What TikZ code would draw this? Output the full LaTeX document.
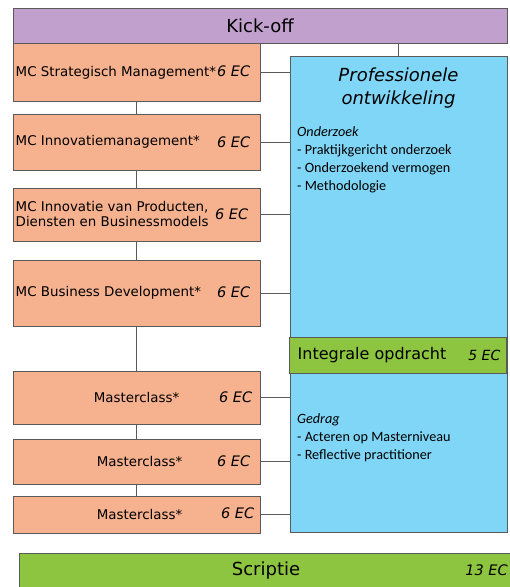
\documentclass[tikz,border=0pt]{standalone}
\usepackage{fontspec}
\setmainfont{DejaVu Sans}
\newfontfamily\listfont{Carlito}
\definecolor{boxgray}{RGB}{90,90,90}
\definecolor{kickpurple}{RGB}{193,160,205}
\definecolor{mcorange}{RGB}{246,177,143}
\definecolor{profblue}{RGB}{128,214,247}
\definecolor{intgreen}{RGB}{141,197,64}
\tikzset{
  box/.style={draw=boxgray, line width=1pt, inner sep=0pt},
  mcbox/.style={box, fill=mcorange, minimum width=247pt},
  mctext/.style={font=\fontsize{13.4}{15}\selectfont, inner sep=0pt, align=left},
  ec/.style={font=\fontsize{14.5}{16}\selectfont\itshape, inner sep=0pt},
  listtext/.style={font=\listfont\fontsize{14.2}{18}\selectfont, inner sep=0pt, align=left},
  link/.style={draw=boxgray, line width=1pt}
}
\begin{document}
\begin{tikzpicture}[x=1pt,y=-1pt]
                \useasboundingbox (0,0) rectangle (510,587);

                % kick-off
                \node[box, fill=kickpurple, minimum width=494pt, minimum height=35pt,
                      font=\fontsize{18}{20}\selectfont] (kickoff) at (260,25.5) {Kick-off};

                % modules left
                \node[mcbox, minimum height=58pt] (mc1) at (136.5,72) {};
                \node[mcbox, minimum height=56pt] (mc2) at (136.5,142) {};
                \node[mcbox, minimum height=53pt] (mc3) at (136.5,214.5) {};
                \node[mcbox, minimum height=66pt] (mc4) at (136.5,293) {};
                \node[mcbox, minimum height=53pt] (mc5) at (136.5,397.5) {};
                \node[mcbox, minimum height=45pt] (mc6) at (136.5,461.5) {};
                \node[mcbox, minimum height=37pt] (mc7) at (136.5,514.5) {};

                \node[mctext, anchor=west] (mc1txt) at ([xshift=3pt,yshift=-1pt]mc1.west) {MC Strategisch Management*};
                \node[mctext, anchor=west] (mc2txt) at ([xshift=3pt]mc2.west) {MC Innovatiemanagement*};
                \node[mctext, anchor=west] (mc3txt) at ([xshift=3pt]mc3.west) {MC Innovatie van Producten,\\Diensten en Businessmodels};
                \node[mctext, anchor=west] (mc4txt) at ([xshift=3pt]mc4.west) {MC Business Development*};
                \node[mctext] (mc5txt) at (mc5) {Masterclass*};
                \node[mctext] (mc6txt) at ([xshift=3pt]mc6.center) {Masterclass*};
                \node[mctext] (mc7txt) at ([xshift=3pt]mc7.center) {Masterclass*};

                \node[ec, anchor=east] (mc1ec) at ([xshift=-10pt,yshift=1pt]mc1.east) {6 EC};
                \node[ec, anchor=east] (mc2ec) at ([xshift=-10pt]mc2.east) {6 EC};
                \node[ec, anchor=east] (mc3ec) at ([xshift=-12pt]mc3.east) {6 EC};
                \node[ec, anchor=east] (mc4ec) at ([xshift=-10pt,yshift=1pt]mc4.east) {6 EC};
                \node[ec, anchor=east] (mc5ec) at ([xshift=-8pt]mc5.east) {6 EC};
                \node[ec, anchor=east] (mc6ec) at ([xshift=-10pt]mc6.east) {6 EC};
                \node[ec, anchor=east] (mc7ec) at ([xshift=-6pt,yshift=1pt]mc7.east) {6 EC};

                % professionele ontwikkeling
                \node[box, fill=profblue, minimum width=217pt, minimum height=476pt] (prof) at (398.5,294) {};
                \node[font=\fontsize{18}{23}\selectfont\itshape, align=center, inner sep=0pt] (proftitle) at (398.5,88) {Professionele\\ontwikkeling};
                \node[listtext, anchor=north west] (onderzoek) at (297,126.5)
                    {\textit{Onderzoek}\\- Praktijkgericht onderzoek\\- Onderzoekend vermogen\\- Methodologie};
                \node[listtext, anchor=north west] (gedrag) at (297,413.5)
                    {\textit{Gedrag}\\- Acteren op Masterniveau\\- Reflective practitioner};

                \node[box, fill=intgreen, minimum width=217pt, minimum height=36pt] (integraal) at (397.5,355) {};
                \node[anchor=west, inner sep=0pt, font=\fontsize{16}{18}\selectfont] (integraaltxt) at ([xshift=9pt]integraal.west) {Integrale opdracht};
                \node[ec, anchor=east, font=\fontsize{14}{16}\selectfont\itshape] (integraalec) at ([xshift=-6pt]integraal.east) {5 EC};

                % scriptie
                \node[box, fill=intgreen, minimum width=501pt, minimum height=47pt, anchor=north west] (scriptie) at (19,553) {};
                \node[inner sep=0pt, font=\fontsize{18}{20}\selectfont] (scriptietxt) at (266,571) {Scriptie};
                \node[ec, anchor=east] (scriptieec) at (508,570) {13 EC};

                % connectors
                \draw[link] (mc1) -- (mc2);
                \draw[link] (mc2) -- (mc3);
                \draw[link] (mc3) -- (mc4);
                \draw[link] (mc4) -- (mc5);
                \draw[link] (mc5) -- (mc6);
                \draw[link] (mc6) -- (mc7);
                \draw[link] (kickoff.south -| prof.north) -- (prof.north);

                \draw[link] (mc1.east) -- (mc1.east -| prof.west);
                \draw[link] (mc2.east) -- (mc2.east -| prof.west);
                \draw[link] (mc3.east) -- (mc3.east -| prof.west);
                \draw[link] (mc4.east) -- (mc4.east -| prof.west);
                \draw[link] (mc5.east) -- (mc5.east -| prof.west);
                \draw[link] (mc6.east) -- (mc6.east -| prof.west);
                \draw[link] (mc7.east) -- (mc7.east -| prof.west);
            \end{tikzpicture}
\end{document}
